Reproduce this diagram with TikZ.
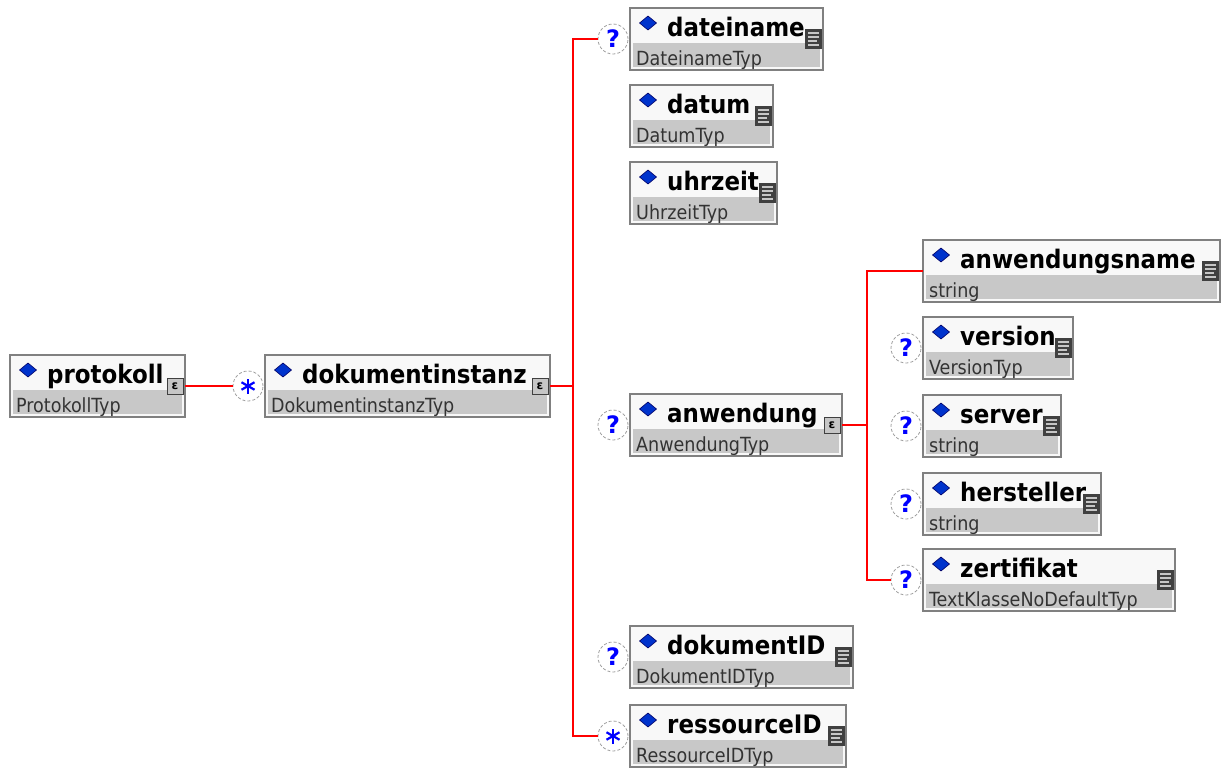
\documentclass[tikz,border=0pt]{standalone}
\usepackage{fontspec}
\setmainfont{DejaVu Sans}
\newfontfamily\condfont{DejaVu Sans Condensed}
\definecolor{boxborder}{HTML}{808080}
\definecolor{boxtop}{HTML}{F8F8F8}
\definecolor{boxgrey}{HTML}{C8C8C8}
\definecolor{diablue}{HTML}{0033CC}
\definecolor{qblue}{HTML}{0000FF}
\definecolor{iconfill}{HTML}{404040}
\definecolor{typegrey}{HTML}{333333}
\definecolor{linered}{HTML}{FF0000}
\tikzset{
  elbox/.style={rectangle, draw=boxborder, fill=boxtop, line width=1.5pt, minimum height=62pt, inner sep=0pt, outer sep=0pt},
  titletext/.style={inner sep=0pt, font=\condfont\bfseries\fontsize{25.5}{25.5}\selectfont, text=black},
  typetext/.style={inner sep=0pt, font=\condfont\fontsize{19.5}{19.5}\selectfont, text=typegrey},
  occ/.style={circle, draw=gray!75, densely dashed, fill=white, minimum size=30pt, inner sep=0pt, outer sep=0pt, line width=0.8pt},
  qmark/.style={occ, text=qblue, font=\bfseries\fontsize{24}{24}\selectfont},
  conn/.style={draw=linered, line width=2pt},
  cplx/.style={rectangle, draw=black!75, fill=gray!45, minimum size=16pt, inner sep=0pt, line width=1pt, font=\bfseries\fontsize{12}{12}\selectfont}
}
\newcommand\elem[7]{% name, left, top, width, title, type, icon
  \node[elbox, minimum width=#4pt, anchor=north west] (#1) at (#2,#3) {};
  \fill[boxgrey] ([shift={(3,35)}]#1.north west) rectangle ([shift={(-3,-3)}]#1.south east);
  \filldraw[fill=diablue, draw=black!60!blue, line width=0.6pt] ([shift={(18,8)}]#1.north west) -- ++(8.5,7) -- ++(-8.5,7) -- ++(-8.5,-7) -- cycle;
  \node[titletext, anchor=base west] at ([shift={(37,28)}]#1.north west) {#5};
  \node[typetext, anchor=base west] at ([shift={(6,57)}]#1.north west) {#6};
  \ifx c#7
    \node[cplx] at ([shift={(-10,31)}]#1.north east) {ε};
  \else
    \fill[iconfill] ([shift={(-18,21)}]#1.north east) rectangle ([shift={(-1,41)}]#1.north east);
    \foreach \yy/\ll in {25/11,29/11,33/9,37/11}
      \draw[gray!45, line width=1.3pt] ([shift={(-15,\yy)}]#1.north east) -- ++(\ll,0);
  \fi
}
\newcommand\staricon[1]{%
  \foreach \a in {90,30,150}
    \draw[qblue, line width=2.2pt] (#1.center) -- ++(\a:7.5) (#1.center) -- ++(\a+180:7.5);
}
\begin{document}
\begin{tikzpicture}[x=1pt,y=-1pt]
\useasboundingbox[fill=white] (0,0) rectangle (1221,769);
% elements
\elem{protokoll}{10}{355}{175}{protokoll}{ProtokollTyp}{c}
\elem{dokumentinstanz}{265}{355}{285}{dokumentinstanz}{DokumentinstanzTyp}{c}
\elem{dateiname}{630}{8}{193}{dateiname}{DateinameTyp}{s}
\elem{datum}{630}{85}{143}{datum}{DatumTyp}{s}
\elem{uhrzeit}{630}{162}{147}{uhrzeit}{UhrzeitTyp}{s}
\elem{anwendung}{630}{394}{212}{anwendung}{AnwendungTyp}{c}
\elem{dokumentID}{630}{626}{223}{dokumentID}{DokumentIDTyp}{s}
\elem{ressourceID}{630}{705}{216}{ressourceID}{RessourceIDTyp}{s}
\elem{anwendungsname}{923}{240}{297}{anwendungsname}{string}{s}
\elem{version}{923}{317}{150}{version}{VersionTyp}{s}
\elem{server}{923}{395}{138}{server}{string}{s}
\elem{hersteller}{923}{473}{178}{hersteller}{string}{s}
\elem{zertifikat}{923}{549}{252}{zertifikat}{TextKlasseNoDefaultTyp}{s}
% bus coordinates
\coordinate (b1) at (573,0);
\coordinate (b2) at (867,0);
% occurrence markers that carry connectors
\node[occ] (s-dokumentinstanz) at (248,386) {};
\node[qmark] (q-dateiname) at (613,39) {?};
\node[occ] (s-ressourceID) at (613,736) {};
\node[qmark] (q-zertifikat) at (906,580) {?};
% connectors
\draw[conn] (protokoll.east) -- (s-dokumentinstanz.west);
\draw[conn] (dokumentinstanz.east) -- (b1 |- dokumentinstanz.east);
\draw[conn] (q-dateiname.west) -- (b1 |- q-dateiname.west) -- (b1 |- s-ressourceID.west) -- (s-ressourceID.west);
\draw[conn] (anwendung.east) -- (b2 |- anwendung.east);
\draw[conn] (anwendungsname.west) -- (b2 |- anwendungsname.west) -- (b2 |- q-zertifikat.west) -- (q-zertifikat.west);
% other occurrence markers
\staricon{s-dokumentinstanz}
\staricon{s-ressourceID}
\node[qmark] (q-anwendung) at (613,425) {?};
\node[qmark] (q-dokumentID) at (613,657) {?};
\node[qmark] (q-version) at (906,348) {?};
\node[qmark] (q-server) at (906,426) {?};
\node[qmark] (q-hersteller) at (906,504) {?};
\end{tikzpicture}
\end{document}
